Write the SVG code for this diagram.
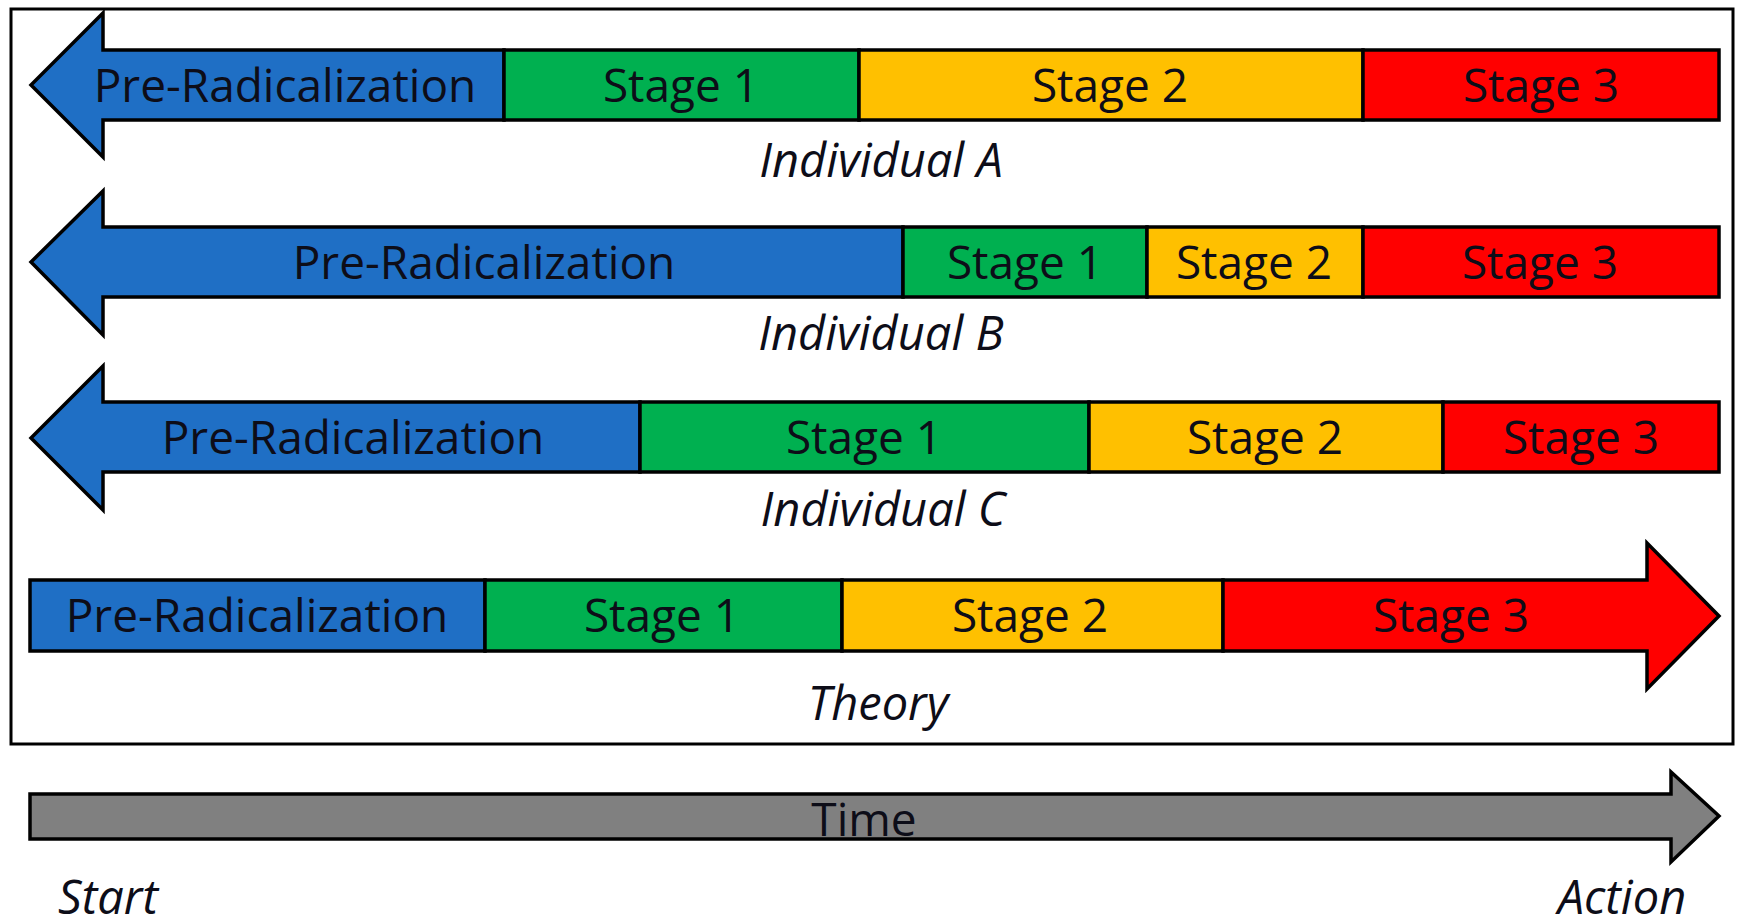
<svg xmlns="http://www.w3.org/2000/svg" width="1737" height="924" viewBox="0 0 1737 924">
<style>
.s{stroke:#000;stroke-width:3.5;stroke-linejoin:miter}
.blue{fill:#1F6FC5}.green{fill:#00B050}.yellow{fill:#FFC000}.red{fill:#FF0000}.gray{fill:#808080}
.t{font-family:"Open Sans","Liberation Sans",sans-serif;font-size:46px;fill:#0d0d18;text-anchor:middle}
.i{font-family:"Open Sans","Liberation Sans",sans-serif;font-size:47px;font-style:italic;fill:#0d0d18;text-anchor:middle}
</style>
<rect width="1737" height="924" fill="#fff"/>
<rect id="frame" x="11" y="9" width="1722" height="735" fill="none" stroke="#000" stroke-width="3"/>
<g id="rowA">
<polygon class="s blue" points="504,50 103,50 103,13 31,85 103,157 103,120 504,120"/>
<rect class="s green" x="504" y="50" width="355" height="70"/>
<rect class="s yellow" x="859" y="50" width="504" height="70"/>
<rect class="s red" x="1363" y="50" width="356" height="70"/>
<text class="t" x="285" y="102">Pre-Radicalization</text>
<text class="t" x="681" y="102">Stage 1</text>
<text class="t" x="1110" y="102">Stage 2</text>
<text class="t" x="1541" y="102">Stage 3</text>
<text class="i" x="881" y="177">Individual A</text>
</g>
<g id="rowB">
<polygon class="s blue" points="903,227 103,227 103,191 31,262 103,335 103,297 903,297"/>
<rect class="s green" x="903" y="227" width="244" height="70"/>
<rect class="s yellow" x="1147" y="227" width="216" height="70"/>
<rect class="s red" x="1363" y="227" width="356" height="70"/>
<text class="t" x="484" y="279">Pre-Radicalization</text>
<text class="t" x="1025" y="279">Stage 1</text>
<text class="t" x="1254" y="279">Stage 2</text>
<text class="t" x="1540" y="279">Stage 3</text>
<text class="i" x="881" y="350">Individual B</text>
</g>
<g id="rowC">
<polygon class="s blue" points="640,402 103,402 103,366 31,438 103,510 103,472 640,472"/>
<rect class="s green" x="640" y="402" width="449" height="70"/>
<rect class="s yellow" x="1089" y="402" width="354" height="70"/>
<rect class="s red" x="1443" y="402" width="276" height="70"/>
<text class="t" x="353" y="454">Pre-Radicalization</text>
<text class="t" x="864" y="454">Stage 1</text>
<text class="t" x="1265" y="454">Stage 2</text>
<text class="t" x="1581" y="454">Stage 3</text>
<text class="i" x="883" y="526">Individual C</text>
</g>
<g id="theory">
<rect class="s blue" x="30" y="580" width="455" height="71"/>
<rect class="s green" x="485" y="580" width="357" height="71"/>
<rect class="s yellow" x="842" y="580" width="381" height="71"/>
<polygon class="s red" points="1223,580 1647,580 1647,543 1719,616 1647,689 1647,651 1223,651"/>
<text class="t" x="257" y="632">Pre-Radicalization</text>
<text class="t" x="662" y="632">Stage 1</text>
<text class="t" x="1030" y="632">Stage 2</text>
<text class="t" x="1451" y="632">Stage 3</text>
<text class="i" x="878" y="720">Theory</text>
</g>
<g id="time">
<polygon class="s gray" points="30,794 1671,794 1671,772 1719,816 1671,862 1671,839 30,839"/>
<text class="t" x="864" y="836">Time</text>
</g>
<g id="labels">
<text class="i" x="108" y="914">Start</text>
<text class="i" x="1622" y="914">Action</text>
</g>
<g id="connectors"></g>
</svg>
